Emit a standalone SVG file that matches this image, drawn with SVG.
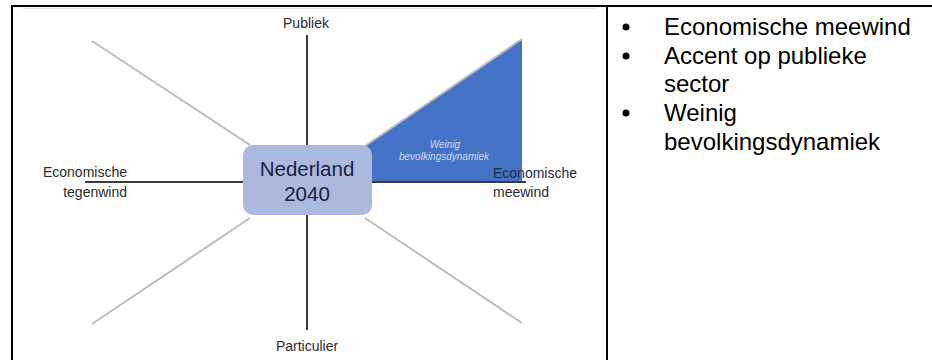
<svg xmlns="http://www.w3.org/2000/svg" width="932" height="360" viewBox="0 0 932 360">
<style>
.border{stroke:#000;stroke-width:2;fill:none}
.axis{stroke:#3a3a3a;stroke-width:2}
.diag{stroke:#bcbcbc;stroke-width:2}
.lbl{font-family:"Liberation Sans",Arial,sans-serif;font-size:14px;fill:#2b2b2b}
.bul{font-family:"Liberation Sans",Arial,sans-serif;font-size:24px;fill:#000}
.tri{font-family:"Liberation Sans",Arial,sans-serif;font-size:10px;font-style:italic;fill:#cfdaf3}
</style>
<rect width="932" height="360" fill="#fff"/>
<g id="table">
<line class="border" x1="11" y1="6" x2="932" y2="6"/>
<line class="border" x1="12" y1="5" x2="12" y2="360"/>
<line class="border" x1="607" y1="5" x2="607" y2="360"/>
<line x1="23" y1="8.5" x2="595" y2="8.5" stroke="#e4e4e4" stroke-width="1"/>
</g>
<g id="triangle">
<polygon points="365,146 522,39 522,181 365,181" fill="#4472c4"/>
<line class="diag" x1="365" y1="146" x2="522" y2="39"/>
<text class="tri" x="445" y="148" text-anchor="middle">Weinig</text>
<text class="tri" x="444" y="160" text-anchor="middle">bevolkingsdynamiek</text>
</g>
<g id="connectors">
<line class="axis" x1="307" y1="35" x2="307" y2="145"/>
<line class="axis" x1="307" y1="215" x2="307" y2="330"/>
<line class="axis" x1="85" y1="182" x2="243" y2="182"/>
<line class="axis" x1="372" y1="182" x2="526" y2="182"/>
<line class="diag" x1="92" y1="41" x2="250" y2="145"/>
<line class="diag" x1="250" y1="218" x2="92" y2="324"/>
<line class="diag" x1="365" y1="218" x2="522" y2="323"/>
</g>
<g id="center">
<rect x="243" y="145" width="129" height="70" rx="10" fill="#abb9de"/>
<text x="307" y="176" text-anchor="middle" font-family="'Liberation Sans',Arial,sans-serif" font-size="20.5" fill="#1a2240">Nederland</text>
<text x="307" y="201" text-anchor="middle" font-family="'Liberation Sans',Arial,sans-serif" font-size="20.5" fill="#1a2240">2040</text>
</g>
<g id="publiek"><text class="lbl" x="306" y="28" text-anchor="middle">Publiek</text></g>
<g id="particulier"><text class="lbl" x="307" y="351" text-anchor="middle">Particulier</text></g>
<g id="tegenwind">
<text class="lbl" x="127" y="177" text-anchor="end">Economische</text>
<text class="lbl" x="127" y="197" text-anchor="end">tegenwind</text>
</g>
<g id="meewind">
<text class="lbl" x="493" y="178" style="fill:#222a44">Economische</text>
<text class="lbl" x="493" y="197">meewind</text>
</g>
<g id="bullets">
<circle cx="626" cy="27" r="3.5" fill="#000"/>
<circle cx="626" cy="56" r="3.5" fill="#000"/>
<circle cx="626" cy="113" r="3.5" fill="#000"/>
<text class="bul" x="664" y="35">Economische meewind</text>
<text class="bul" x="664" y="64">Accent op publieke</text>
<text class="bul" x="664" y="92">sector</text>
<text class="bul" x="664" y="121">Weinig</text>
<text class="bul" x="664" y="150">bevolkingsdynamiek</text>
</g>
</svg>
